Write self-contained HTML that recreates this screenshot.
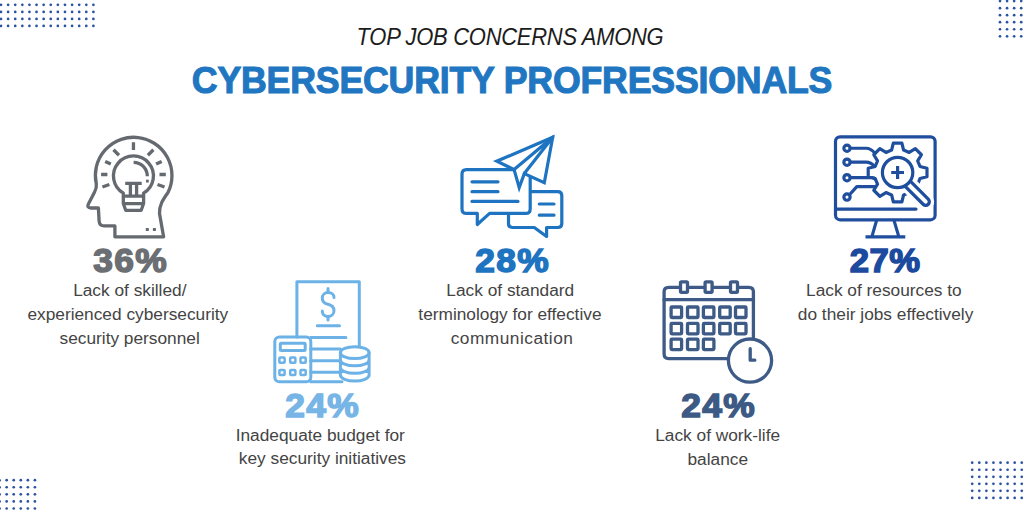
<!DOCTYPE html>
<html><head><meta charset="utf-8">
<style>
html,body{margin:0;padding:0;background:#fff;}
body{width:1024px;height:512px;position:relative;overflow:hidden;font-family:"Liberation Sans",sans-serif;}
.t{position:absolute;white-space:nowrap;text-align:center;line-height:1;}
.sub{font-style:italic;color:#1c1c1c;}
.main{font-weight:700;color:#2176c1;-webkit-text-stroke:1.1px #2176c1;}
.pct{font-weight:700;-webkit-text-stroke:1.5px currentColor;letter-spacing:1.2px;text-indent:1.2px;}
.body{color:#444;}
svg{position:absolute;left:0;top:0;}
</style></head><body>
<svg width="1024" height="512" viewBox="0 0 1024 512">
<g fill="#2c52a2"><circle cx="1.00" cy="4.85" r="1.35"/><circle cx="8.11" cy="4.85" r="1.35"/><circle cx="15.22" cy="4.85" r="1.35"/><circle cx="22.32" cy="4.85" r="1.35"/><circle cx="29.43" cy="4.85" r="1.35"/><circle cx="36.54" cy="4.85" r="1.35"/><circle cx="43.65" cy="4.85" r="1.35"/><circle cx="50.76" cy="4.85" r="1.35"/><circle cx="57.86" cy="4.85" r="1.35"/><circle cx="64.97" cy="4.85" r="1.35"/><circle cx="72.08" cy="4.85" r="1.35"/><circle cx="79.19" cy="4.85" r="1.35"/><circle cx="86.30" cy="4.85" r="1.35"/><circle cx="93.40" cy="4.85" r="1.35"/><circle cx="1.00" cy="11.89" r="1.35"/><circle cx="8.11" cy="11.89" r="1.35"/><circle cx="15.22" cy="11.89" r="1.35"/><circle cx="22.32" cy="11.89" r="1.35"/><circle cx="29.43" cy="11.89" r="1.35"/><circle cx="36.54" cy="11.89" r="1.35"/><circle cx="43.65" cy="11.89" r="1.35"/><circle cx="50.76" cy="11.89" r="1.35"/><circle cx="57.86" cy="11.89" r="1.35"/><circle cx="64.97" cy="11.89" r="1.35"/><circle cx="72.08" cy="11.89" r="1.35"/><circle cx="79.19" cy="11.89" r="1.35"/><circle cx="86.30" cy="11.89" r="1.35"/><circle cx="93.40" cy="11.89" r="1.35"/><circle cx="1.00" cy="18.93" r="1.35"/><circle cx="8.11" cy="18.93" r="1.35"/><circle cx="15.22" cy="18.93" r="1.35"/><circle cx="22.32" cy="18.93" r="1.35"/><circle cx="29.43" cy="18.93" r="1.35"/><circle cx="36.54" cy="18.93" r="1.35"/><circle cx="43.65" cy="18.93" r="1.35"/><circle cx="50.76" cy="18.93" r="1.35"/><circle cx="57.86" cy="18.93" r="1.35"/><circle cx="64.97" cy="18.93" r="1.35"/><circle cx="72.08" cy="18.93" r="1.35"/><circle cx="79.19" cy="18.93" r="1.35"/><circle cx="86.30" cy="18.93" r="1.35"/><circle cx="93.40" cy="18.93" r="1.35"/><circle cx="1.00" cy="25.97" r="1.35"/><circle cx="8.11" cy="25.97" r="1.35"/><circle cx="15.22" cy="25.97" r="1.35"/><circle cx="22.32" cy="25.97" r="1.35"/><circle cx="29.43" cy="25.97" r="1.35"/><circle cx="36.54" cy="25.97" r="1.35"/><circle cx="43.65" cy="25.97" r="1.35"/><circle cx="50.76" cy="25.97" r="1.35"/><circle cx="57.86" cy="25.97" r="1.35"/><circle cx="64.97" cy="25.97" r="1.35"/><circle cx="72.08" cy="25.97" r="1.35"/><circle cx="79.19" cy="25.97" r="1.35"/><circle cx="86.30" cy="25.97" r="1.35"/><circle cx="93.40" cy="25.97" r="1.35"/><circle cx="1000.00" cy="1.10" r="1.35"/><circle cx="1007.07" cy="1.10" r="1.35"/><circle cx="1014.14" cy="1.10" r="1.35"/><circle cx="1021.21" cy="1.10" r="1.35"/><circle cx="1000.00" cy="8.14" r="1.35"/><circle cx="1007.07" cy="8.14" r="1.35"/><circle cx="1014.14" cy="8.14" r="1.35"/><circle cx="1021.21" cy="8.14" r="1.35"/><circle cx="1000.00" cy="15.18" r="1.35"/><circle cx="1007.07" cy="15.18" r="1.35"/><circle cx="1014.14" cy="15.18" r="1.35"/><circle cx="1021.21" cy="15.18" r="1.35"/><circle cx="1000.00" cy="22.22" r="1.35"/><circle cx="1007.07" cy="22.22" r="1.35"/><circle cx="1014.14" cy="22.22" r="1.35"/><circle cx="1021.21" cy="22.22" r="1.35"/><circle cx="1000.00" cy="29.26" r="1.35"/><circle cx="1007.07" cy="29.26" r="1.35"/><circle cx="1014.14" cy="29.26" r="1.35"/><circle cx="1021.21" cy="29.26" r="1.35"/><circle cx="1000.00" cy="36.30" r="1.35"/><circle cx="1007.07" cy="36.30" r="1.35"/><circle cx="1014.14" cy="36.30" r="1.35"/><circle cx="1021.21" cy="36.30" r="1.35"/><circle cx="-0.40" cy="480.20" r="1.35"/><circle cx="6.66" cy="480.20" r="1.35"/><circle cx="13.72" cy="480.20" r="1.35"/><circle cx="20.78" cy="480.20" r="1.35"/><circle cx="27.84" cy="480.20" r="1.35"/><circle cx="34.90" cy="480.20" r="1.35"/><circle cx="-0.40" cy="487.27" r="1.35"/><circle cx="6.66" cy="487.27" r="1.35"/><circle cx="13.72" cy="487.27" r="1.35"/><circle cx="20.78" cy="487.27" r="1.35"/><circle cx="27.84" cy="487.27" r="1.35"/><circle cx="34.90" cy="487.27" r="1.35"/><circle cx="-0.40" cy="494.34" r="1.35"/><circle cx="6.66" cy="494.34" r="1.35"/><circle cx="13.72" cy="494.34" r="1.35"/><circle cx="20.78" cy="494.34" r="1.35"/><circle cx="27.84" cy="494.34" r="1.35"/><circle cx="34.90" cy="494.34" r="1.35"/><circle cx="-0.40" cy="501.41" r="1.35"/><circle cx="6.66" cy="501.41" r="1.35"/><circle cx="13.72" cy="501.41" r="1.35"/><circle cx="20.78" cy="501.41" r="1.35"/><circle cx="27.84" cy="501.41" r="1.35"/><circle cx="34.90" cy="501.41" r="1.35"/><circle cx="-0.40" cy="508.48" r="1.35"/><circle cx="6.66" cy="508.48" r="1.35"/><circle cx="13.72" cy="508.48" r="1.35"/><circle cx="20.78" cy="508.48" r="1.35"/><circle cx="27.84" cy="508.48" r="1.35"/><circle cx="34.90" cy="508.48" r="1.35"/><circle cx="972.20" cy="462.70" r="1.35"/><circle cx="979.28" cy="462.70" r="1.35"/><circle cx="986.36" cy="462.70" r="1.35"/><circle cx="993.44" cy="462.70" r="1.35"/><circle cx="1000.52" cy="462.70" r="1.35"/><circle cx="1007.60" cy="462.70" r="1.35"/><circle cx="1014.68" cy="462.70" r="1.35"/><circle cx="1021.76" cy="462.70" r="1.35"/><circle cx="972.20" cy="469.74" r="1.35"/><circle cx="979.28" cy="469.74" r="1.35"/><circle cx="986.36" cy="469.74" r="1.35"/><circle cx="993.44" cy="469.74" r="1.35"/><circle cx="1000.52" cy="469.74" r="1.35"/><circle cx="1007.60" cy="469.74" r="1.35"/><circle cx="1014.68" cy="469.74" r="1.35"/><circle cx="1021.76" cy="469.74" r="1.35"/><circle cx="972.20" cy="476.78" r="1.35"/><circle cx="979.28" cy="476.78" r="1.35"/><circle cx="986.36" cy="476.78" r="1.35"/><circle cx="993.44" cy="476.78" r="1.35"/><circle cx="1000.52" cy="476.78" r="1.35"/><circle cx="1007.60" cy="476.78" r="1.35"/><circle cx="1014.68" cy="476.78" r="1.35"/><circle cx="1021.76" cy="476.78" r="1.35"/><circle cx="972.20" cy="483.82" r="1.35"/><circle cx="979.28" cy="483.82" r="1.35"/><circle cx="986.36" cy="483.82" r="1.35"/><circle cx="993.44" cy="483.82" r="1.35"/><circle cx="1000.52" cy="483.82" r="1.35"/><circle cx="1007.60" cy="483.82" r="1.35"/><circle cx="1014.68" cy="483.82" r="1.35"/><circle cx="1021.76" cy="483.82" r="1.35"/><circle cx="972.20" cy="490.86" r="1.35"/><circle cx="979.28" cy="490.86" r="1.35"/><circle cx="986.36" cy="490.86" r="1.35"/><circle cx="993.44" cy="490.86" r="1.35"/><circle cx="1000.52" cy="490.86" r="1.35"/><circle cx="1007.60" cy="490.86" r="1.35"/><circle cx="1014.68" cy="490.86" r="1.35"/><circle cx="1021.76" cy="490.86" r="1.35"/><circle cx="972.20" cy="497.90" r="1.35"/><circle cx="979.28" cy="497.90" r="1.35"/><circle cx="986.36" cy="497.90" r="1.35"/><circle cx="993.44" cy="497.90" r="1.35"/><circle cx="1000.52" cy="497.90" r="1.35"/><circle cx="1007.60" cy="497.90" r="1.35"/><circle cx="1014.68" cy="497.90" r="1.35"/><circle cx="1021.76" cy="497.90" r="1.35"/></g>

<!-- icon1 head -->
<g fill="none" stroke="#656970" stroke-width="3.3" stroke-linejoin="round">
<path d="M114.9 236.8 V225.9 H104.2 Q99.4 225.9 99.1 221 L98.4 208 H90.9 Q86.6 208 88.4 204 L94.6 192 Q96.8 188.2 96.3 184 A38.3 38.3 0 1 1 168 192.5 C163 199.5 159 205.5 159.5 213.5 L163.6 236.8 Z"/>
<path d="M123.3 203.5 V193.2 A20 20 0 1 1 143.6 193.2 V203.5 L141.2 210.3 H125.7 Z"/>
<path d="M123.3 196.2 H143.6 M123.3 203.6 H143.6"/>
<path d="M125.2 183.3 H141.7 M130.4 183.3 V195.5 M136.6 183.3 V195.5"/>
<path d="M133.6 162.3 A13.8 13.8 0 0 1 147.3 176.2"/>
<path d="M133.45 142.3 V150 M113.5 149.8 L119 155.2 M153.4 149.8 L147.9 155.2 M105.2 161.4 L110.8 164.1 M161.7 161.4 L156.1 164.1 M101.1 174.5 H107.4 M159.5 174.5 H165.8 M102.4 187 L109.4 184.5 M164.5 187 L157.5 184.5"/>
</g>
<g fill="#656970"><rect x="146" y="179.7" width="2.8" height="2.8"/><rect x="145.8" y="228" width="3" height="3"/><rect x="152.9" y="228" width="3" height="3"/></g>

<!-- icon2 budget -->
<g fill="none" stroke="#6cb2e6" stroke-width="3" stroke-linecap="round" stroke-linejoin="round">
<path d="M296.9 337 V281.7 H359.3 V346"/>
<path d="M334 297.5 C334 294.5 331.5 292.6 328 292.6 C324.5 292.6 322.3 295 322.3 298.2 C322.3 301.8 325 303.5 328 304.3 C331 305.1 334 306.8 334 310.5 C334 313.8 331.5 316.6 328 316.6 C324.5 316.6 322.3 314 322.3 311"/>
<path d="M328 288.5 V292.6 M328 316.6 V320"/>
<path d="M317.3 325.8 H339.5 M310.7 337.5 H345.9"/>
<path d="M310.7 349 H340.4 M310.7 360.7 H340.4 M310.7 372.3 H340.4 M310.7 381.8 H342"/>
<rect x="274.8" y="337" width="36" height="44.8" rx="4.6"/>
<rect x="280.3" y="343.2" width="24.9" height="7.3" rx="1"/>
<g stroke-width="2.5">
<rect x="279.4" y="357.6" width="5.2" height="5.2" rx="0.8"/><rect x="290.2" y="357.6" width="5.2" height="5.2" rx="0.8"/><rect x="300.5" y="357.6" width="5.2" height="5.2" rx="0.8"/>
<rect x="279.4" y="369.9" width="5.2" height="5.2" rx="0.8"/><rect x="290.2" y="369.9" width="5.2" height="5.2" rx="0.8"/><rect x="300.5" y="369.9" width="5.2" height="5.2" rx="0.8"/>
</g>
<ellipse cx="354.75" cy="352.65" rx="14.35" ry="5.9" fill="#fff"/>
<path d="M340.4 359.95 A14.35 5.9 0 0 0 369.1 359.95 M340.4 367.4 A14.35 5.9 0 0 0 369.1 367.4 M340.4 375.1 A14.35 5.9 0 0 0 369.1 375.1 M340.4 352.65 V375.1 M369.1 352.65 V375.1"/>
</g>

<!-- icon3 chat -->
<g fill="#fff" stroke="#1e74c0" stroke-width="3.2" stroke-linecap="round" stroke-linejoin="round">
<path d="M534.3 227.5 H512.5 Q508.5 227.5 508.5 223.5 V195.7 Q508.5 191.7 512.5 191.7 H557.8 Q561.8 191.7 561.8 195.7 V223.5 Q561.8 227.5 557.8 227.5 H546.6 V236.5 Z"/>
<path d="M539.3 204 H554 M539.3 215.2 H554" fill="none"/>
<path d="M466.5 169.6 H525.7 Q530.2 169.6 530.2 174.1 V208.9 Q530.2 213.4 525.7 213.4 H489.6 L477.3 224.5 V213.4 H466.5 Q462 213.4 462 208.9 V174.1 Q462 169.6 466.5 169.6 Z"/>
<path d="M472 181.8 H498 M472 191.7 H498 M472 201.4 H518" fill="none"/>
<path d="M552.7 137.2 L496.8 161.2 L514.1 169.6 L519.2 187.6 L524.3 173.6 L544.3 182.8 Z" stroke-linejoin="miter" stroke-miterlimit="6"/>
<path d="M514.1 169.6 L552.7 137.2 M524.3 173.6 L552.7 137.2" fill="none"/>
</g>

<!-- icon4 monitor -->
<g fill="none" stroke="#1f4e9e" stroke-width="3.2" stroke-linecap="round" stroke-linejoin="round">
<rect x="835.5" y="136.8" width="99.6" height="83" rx="4.5"/>
<path d="M835.5 209.1 H916"/>
<path d="M876.6 220.4 L871.9 236.6 M894 220.4 L898.8 236.6 M865.5 236.8 H905.3" stroke-linecap="butt"/>
<path d="M891.60 150.09 L893.31 143.11 L901.89 143.11 L903.60 150.09 L909.20 152.41 L915.35 148.69 L921.41 154.75 L917.69 160.90 L920.01 166.50 L926.99 168.21 L926.99 176.79 L920.01 178.50 L917.69 184.10 L921.41 190.25 L915.35 196.31 L909.20 192.59 L903.60 194.91 L901.89 201.89 L893.31 201.89 L891.60 194.91 L886.00 192.59 L879.85 196.31 L873.79 190.25 L877.51 184.10 L875.19 178.50 L868.21 176.79 L868.21 168.21 L875.19 166.50 L877.51 160.90 L873.79 154.75 L879.85 148.69 L886.00 152.41 Z"/>
<circle cx="847" cy="148.25" r="3.15"/><circle cx="847" cy="162.2" r="3.15"/><circle cx="847" cy="177.7" r="3.15"/><circle cx="847" cy="197.1" r="3.15"/>
<path d="M850.2 148.25 H866 Q871 148.25 875 153.5 M850.2 162.2 H866 Q871 162.2 874.5 166.5 M850.2 177.7 H871.7 Q874 177.7 875.5 179.5 M849.5 194.8 L856.8 186.6 H874.5"/>
<path d="M908 184 L925.7 201.7" stroke="#fff" stroke-width="17"/>
<path d="M908 184 L925.7 201.7" stroke-width="10.5"/>
<path d="M908 184 L925.7 201.7" stroke="#fff" stroke-width="4"/>
<circle cx="897.6" cy="172.5" r="15.2" fill="#fff"/>
<path d="M891.2 172.5 H904 M897.6 166 V179" stroke-linecap="butt"/>
</g>

<!-- icon5 calendar -->
<g fill="none" stroke="#3d5b86" stroke-width="3.3" stroke-linecap="round" stroke-linejoin="round">
<path d="M727 358.6 H668.6 Q664.1 358.6 664.1 354.1 V291.8 Q664.1 287.3 668.6 287.3 H748.9 Q753.4 287.3 753.4 291.8 V338.5"/>
<path d="M664.1 299.6 H753.4"/>
<g fill="#fff"><rect x="680.5" y="281.8" width="7" height="10.5" rx="1"/><rect x="705.1" y="281.8" width="7" height="10.5" rx="1"/><rect x="730.5" y="281.8" width="7" height="10.5" rx="1"/></g>
<rect x="671.1" y="307.0" width="10.5" height="10.5" rx="0.8"/><rect x="687.5" y="307.0" width="10.5" height="10.5" rx="0.8"/><rect x="703.4" y="307.0" width="10.5" height="10.5" rx="0.8"/><rect x="719.7" y="307.0" width="10.5" height="10.5" rx="0.8"/><rect x="735.5" y="307.0" width="10.5" height="10.5" rx="0.8"/><rect x="671.1" y="323.4" width="10.5" height="10.5" rx="0.8"/><rect x="687.5" y="323.4" width="10.5" height="10.5" rx="0.8"/><rect x="703.4" y="323.4" width="10.5" height="10.5" rx="0.8"/><rect x="719.7" y="323.4" width="10.5" height="10.5" rx="0.8"/><rect x="735.5" y="323.4" width="10.5" height="10.5" rx="0.8"/><rect x="671.1" y="339.1" width="10.5" height="10.5" rx="0.8"/><rect x="687.5" y="339.1" width="10.5" height="10.5" rx="0.8"/><rect x="703.4" y="339.1" width="10.5" height="10.5" rx="0.8"/>
<circle cx="750" cy="360.6" r="21.6" fill="#fff"/>
<path d="M750.2 348.7 V360.2 H754.8"/>
</g>
</svg>
<div class="t sub" style="left:9.65px;width:1000px;top:26.11px;font-size:23.5px;letter-spacing:-0.3px;transform:scaleX(0.935);">TOP JOB CONCERNS AMONG</div>
<div class="t main" style="left:11.90px;width:1000px;top:62.20px;font-size:37.8px;letter-spacing:-0.2px;transform:scaleX(0.944);">CYBERSECURITY PROFRESSIONALS</div>
<div class="t pct" style="left:-370.40px;width:1000px;top:243.12px;font-size:34px;color:#6b6f74;transform:scaleX(1.04);">36%</div>
<div class="t body" style="left:-370.20px;width:1000px;top:281.96px;font-size:17.3px;">Lack of skilled/</div>
<div class="t body" style="left:-372.20px;width:1000px;top:305.61px;font-size:17.3px;">experienced cybersecurity</div>
<div class="t body" style="left:-370.35px;width:1000px;top:329.56px;font-size:17.3px;">security personnel</div>
<div class="t pct" style="left:-178.30px;width:1000px;top:388.12px;font-size:34px;color:#77b5e6;transform:scaleX(1.04);">24%</div>
<div class="t body" style="left:-179.75px;width:1000px;top:426.86px;font-size:17.3px;">Inadequate budget for</div>
<div class="t body" style="left:-177.60px;width:1000px;top:450.46px;font-size:17.3px;">key security initiatives</div>
<div class="t pct" style="left:12.00px;width:1000px;top:242.92px;font-size:34px;color:#1e74c0;transform:scaleX(1.04);">28%</div>
<div class="t body" style="left:10.25px;width:1000px;top:281.96px;font-size:17.3px;">Lack of standard</div>
<div class="t body" style="left:9.95px;width:1000px;top:305.56px;font-size:17.3px;">terminology for effective</div>
<div class="t body" style="left:11.80px;width:1000px;top:329.51px;font-size:17.3px;letter-spacing:0.5px;text-indent:0.5px;">communication</div>
<div class="t pct" style="left:217.60px;width:1000px;top:388.12px;font-size:34px;color:#3d5a85;transform:scaleX(1.04);">24%</div>
<div class="t body" style="left:217.70px;width:1000px;top:426.96px;font-size:17.3px;">Lack of work-life</div>
<div class="t body" style="left:217.75px;width:1000px;top:450.56px;font-size:17.3px;">balance</div>
<div class="t pct" style="left:385.25px;width:1000px;top:242.92px;font-size:34px;color:#1c4a9e;letter-spacing:0.5px;text-indent:0.5px;transform:scaleX(1.02);">27%</div>
<div class="t body" style="left:383.85px;width:1000px;top:281.86px;font-size:17.3px;">Lack of resources to</div>
<div class="t body" style="left:385.60px;width:1000px;top:305.56px;font-size:17.3px;">do their jobs effectively</div>
</body></html>
